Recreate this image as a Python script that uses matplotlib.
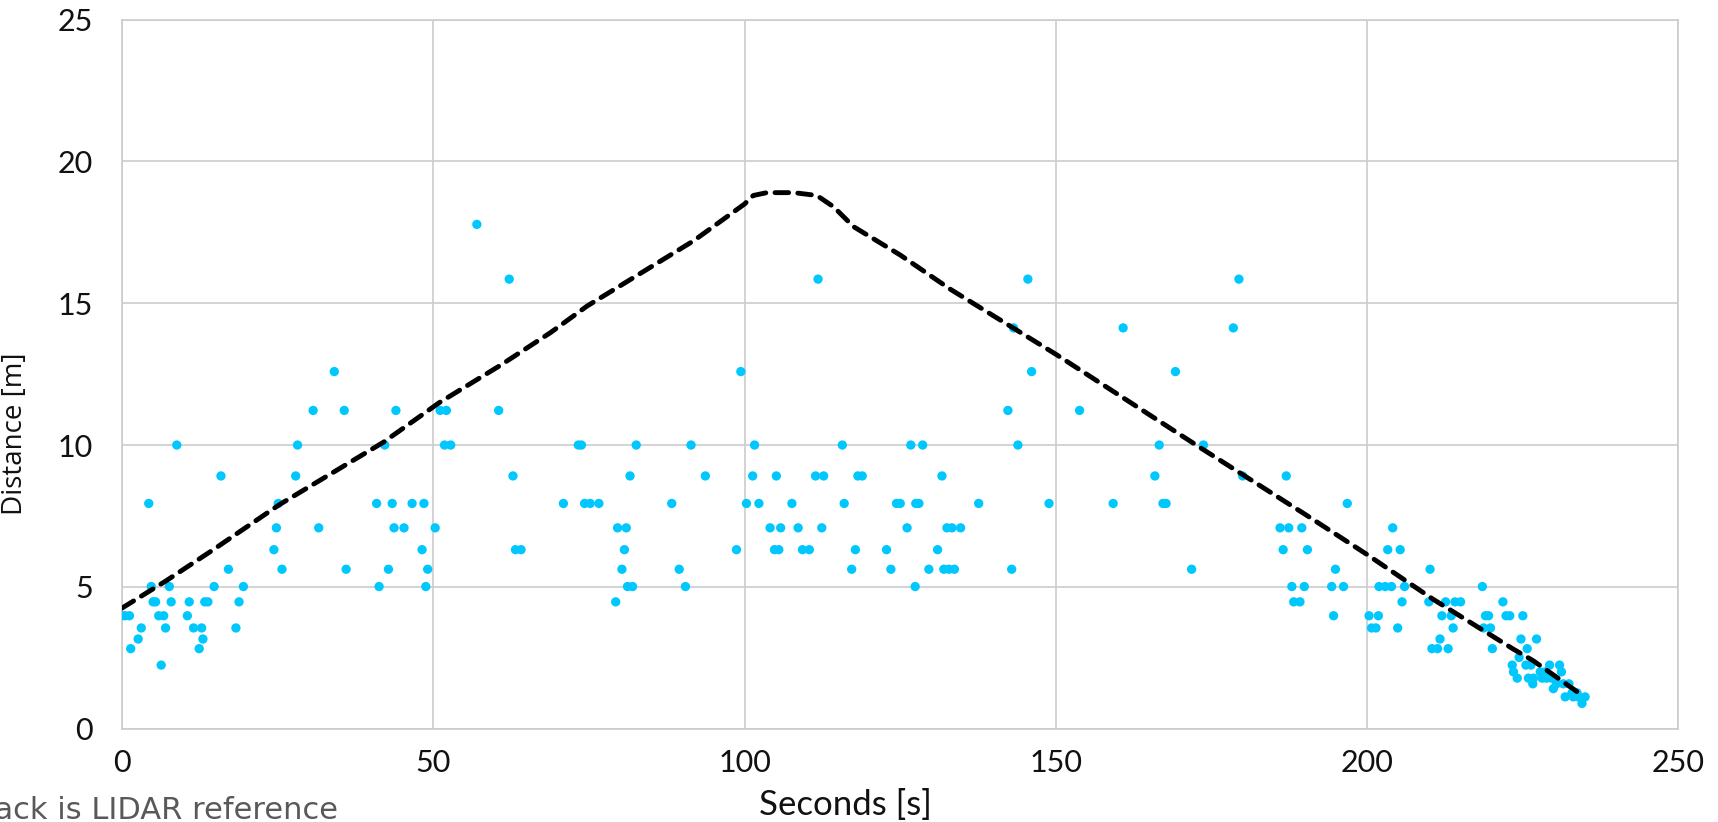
import matplotlib
matplotlib.use('Agg')
import matplotlib.pyplot as plt

plt.rcParams['font.family'] = ['Lato', 'DejaVu Sans']

# sensor readings (seconds, metres)
sensor_t = [57.0, 62.2, 34.1, 30.7, 35.7, 44.0, 51.1, 52.1, 60.5, 8.8, 28.2, 42.2, 51.8, 52.8,
            15.9, 27.9, 62.8, 4.3, 25.1, 40.9, 43.4, 46.6, 48.5, 24.8, 31.6, 43.7, 45.3, 50.3,
            24.4, 48.2, 63.2, 64.1, 17.1, 25.7, 36.0, 42.8, 49.1, 4.7, 7.6, 14.8, 19.5, 41.3,
            48.8, 5.0, 5.4, 7.9, 10.8, 13.3, 13.8, 18.8, 0.0, 0.5, 1.2, 5.9, 6.7, 10.5, 3.1,
            7.0, 11.5, 12.8, 18.3, 2.6, 13.0, 1.4, 12.4, 6.3,
            111.8, 99.4, 73.3, 73.8, 82.6, 91.4, 101.6, 115.7, 126.7, 128.6, 81.6, 93.7, 101.3,
            105.1, 111.4, 112.7, 118.2, 118.9, 131.7, 70.9, 74.3, 75.2, 76.6, 88.3, 100.3, 102.3,
            107.6, 116.0, 124.4, 125.0, 127.5, 128.0, 79.6, 81.0, 104.1, 105.8, 108.6, 112.4,
            126.1, 132.5, 80.7, 98.7, 104.8, 105.5, 109.3, 110.4, 117.8, 122.8, 131.0, 80.3,
            89.5, 117.2, 123.5, 129.6, 132.0, 132.8, 133.7, 81.2, 82.0, 90.5, 127.4, 79.3,
            145.5, 179.4, 143.2, 160.8, 178.5, 146.1, 169.2, 142.3, 153.8, 143.9, 166.6, 173.7,
            165.9, 180.0, 187.0, 137.6, 148.9, 159.2, 167.2, 167.7, 196.8, 133.3, 134.7, 186.0,
            187.4, 189.5, 186.5, 190.4, 142.9, 171.8, 194.9, 187.9, 189.9, 194.3, 196.2, 188.2,
            189.2, 194.6,
            204.1, 203.3, 205.3, 210.1, 201.9, 202.9, 203.9, 206.0, 218.5, 205.6, 209.9, 212.6,
            214.1, 215.0, 221.8, 200.3, 201.8, 212.0, 213.5, 219.0, 219.5, 222.3, 222.9, 225.0,
            200.7, 201.4, 204.9, 213.8, 218.7, 219.8, 211.7, 224.7, 227.2, 210.4, 211.3, 213.0,
            220.1, 225.7, 224.4, 223.3, 225.5, 226.3, 229.3, 230.9, 223.5, 227.8, 228.6, 231.2,
            224.1, 225.9, 226.7, 228.1, 228.8, 229.6, 226.6, 230.4, 231.5, 232.4, 229.9, 233.7,
            232.9, 231.8, 233.1, 233.9, 235.0, 234.5]
sensor_d = [17.78, 15.85, 12.59, 11.22, 11.22, 11.22, 11.22, 11.22, 11.22, 10.0, 10.0, 10.0, 10.0, 10.0,
            8.91, 8.91, 8.91, 7.94, 7.94, 7.94, 7.94, 7.94, 7.94, 7.08, 7.08, 7.08, 7.08, 7.08,
            6.31, 6.31, 6.31, 6.31, 5.62, 5.62, 5.62, 5.62, 5.62, 5.01, 5.01, 5.01, 5.01, 5.01,
            5.01, 4.47, 4.47, 4.47, 4.47, 4.47, 4.47, 4.47, 3.98, 3.98, 3.98, 3.98, 3.98, 3.98, 3.55,
            3.55, 3.55, 3.55, 3.55, 3.16, 3.16, 2.82, 2.82, 2.24,
            15.85, 12.59, 10.0, 10.0, 10.0, 10.0, 10.0, 10.0, 10.0, 10.0, 8.91, 8.91, 8.91,
            8.91, 8.91, 8.91, 8.91, 8.91, 8.91, 7.94, 7.94, 7.94, 7.94, 7.94, 7.94, 7.94,
            7.94, 7.94, 7.94, 7.94, 7.94, 7.94, 7.08, 7.08, 7.08, 7.08, 7.08, 7.08,
            7.08, 7.08, 6.31, 6.31, 6.31, 6.31, 6.31, 6.31, 6.31, 6.31, 6.31, 5.62,
            5.62, 5.62, 5.62, 5.62, 5.62, 5.62, 5.62, 5.01, 5.01, 5.01, 5.01, 4.47,
            15.85, 15.85, 14.13, 14.13, 14.13, 12.59, 12.59, 11.22, 11.22, 10.0, 10.0, 10.0,
            8.91, 8.91, 8.91, 7.94, 7.94, 7.94, 7.94, 7.94, 7.94, 7.08, 7.08, 7.08,
            7.08, 7.08, 6.31, 6.31, 5.62, 5.62, 5.62, 5.01, 5.01, 5.01, 5.01, 4.47,
            4.47, 3.98,
            7.08, 6.31, 6.31, 5.62, 5.01, 5.01, 5.01, 5.01, 5.01, 4.47, 4.47, 4.47,
            4.47, 4.47, 4.47, 3.98, 3.98, 3.98, 3.98, 3.98, 3.98, 3.98, 3.98, 3.98,
            3.55, 3.55, 3.55, 3.55, 3.55, 3.55, 3.16, 3.16, 3.16, 2.82, 2.82, 2.82,
            2.82, 2.82, 2.51, 2.24, 2.24, 2.24, 2.24, 2.24, 2.0, 2.0, 2.0, 2.0,
            1.78, 1.78, 1.78, 1.78, 1.78, 1.78, 1.58, 1.58, 1.58, 1.58, 1.41, 1.26,
            1.26, 1.12, 1.12, 1.12, 1.12, 0.89]

# LIDAR reference
lidar_t = [0, 7, 14.6, 25.3, 42, 51, 60.7, 68.8, 74.7, 91.8, 100, 101.4, 103.6, 107.9,
           111.6, 114.3, 117.5, 125, 133, 150, 173.1, 190, 199.9, 210.6, 223.5, 226.7, 234.7]
lidar_d = [4.25, 5.2, 6.3, 7.9, 10.1, 11.5, 12.8, 13.96, 14.9, 17.2, 18.5, 18.8, 18.9, 18.9,
           18.8, 18.4, 17.7, 16.7, 15.5, 13.2, 9.92, 7.56, 6.15, 4.56, 2.8, 2.39, 1.15]

fig = plt.figure(figsize=(17.18, 8.22), dpi=100)
ax = fig.add_axes([0.071, 0.1136, 0.906, 0.8625])

ax.scatter(sensor_t, sensor_d, s=45, color='#00c8ff', edgecolors='none', zorder=3)
ax.plot(lidar_t, lidar_d, color='black', lw=3.5, dashes=(2.8, 1.9),
        dash_capstyle='round', zorder=4)

ax.set_xlim(0, 250)
ax.set_ylim(0, 25)
ax.set_xticks(range(0, 251, 50))
ax.set_yticks(range(0, 26, 5))
ax.grid(True, color='#cccccc', lw=1.2)
ax.set_axisbelow(True)
for s in ax.spines.values():
    s.set_color('#cccccc')
    s.set_linewidth(1.2)
ax.tick_params(length=0, labelsize=22, labelcolor='#111111')
ax.tick_params(axis='y', pad=21)
ax.tick_params(axis='x', pad=15)

ax.set_xlabel('Seconds [s]', fontsize=25, color='#111111')
ax.xaxis.set_label_coords(0.465, -0.085)
ax.set_ylabel('Distance [m]', fontsize=20, family=['Open Sans', 'DejaVu Sans'], color='#111111')
ax.yaxis.set_label_coords(-0.060, 0.4156)

# note sits partly off the left edge, as in the original export
fig.text(338 / 1718, 1 - 819 / 822, 'Black is LIDAR reference', ha='right', va='baseline',
         fontsize=22, color='#595959', family=['DejaVu Sans'])

fig.savefig('out.png', dpi=100)
